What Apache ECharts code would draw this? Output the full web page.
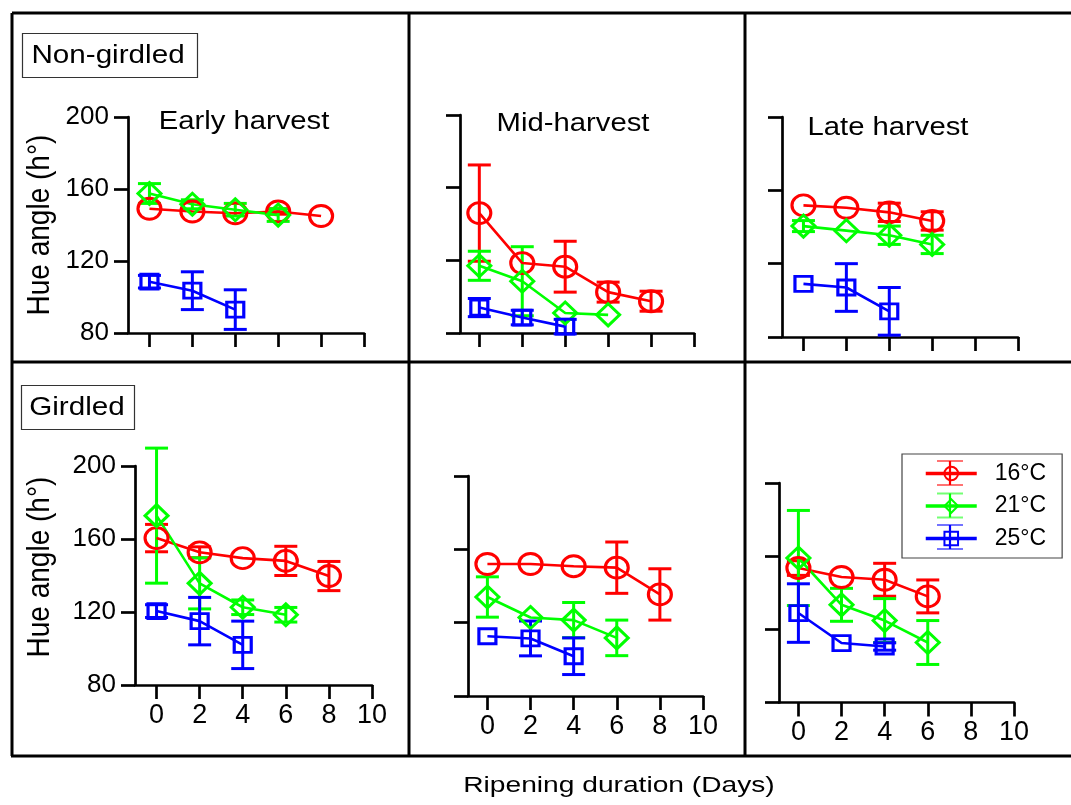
<!DOCTYPE html>
<html>
<head>
<meta charset="utf-8">
<script src="https://cdn.jsdelivr.net/npm/echarts@6/dist/echarts.min.js"></script>
<style>
  html, body { margin: 0; padding: 0; background: #fff; }
  #main { width: 1071px; height: 805px; }
</style>
</head>
<body>
<div id="main"></div>
<script>
var days = [0, 2, 4, 6, 8];
var xTicks = [0, 2, 4, 6, 8, 10];
var temps = ['16°C', '21°C', '25°C'];
var colors = ['#ff0000', '#00ff00', '#0000ff'];

// Non-girdled, early harvest
var ngEarly16 = [149, 147.5, 146.5, 147.5, 145];
var ngEarly16Err = [0, 0, 0, 1.5, 0];
var ngEarly21 = [157.5, 151.5, 148.5, 145.5];
var ngEarly21Err = [5.5, 2.5, 3.5, 3.5];
var ngEarly25 = [108.5, 103.5, 93];
var ngEarly25Err = [3.5, 10.5, 11];

// Non-girdled, mid harvest
var ngMid16 = [146, 118.5, 116.5, 102.5, 97.5];
var ngMid16Err = [26.5, 0, 14, 5.5, 5.5];
var ngMid21 = [117, 108.5, 91, 90];
var ngMid21Err = [8, 19, 0, 0];
var ngMid25 = [94, 88.5, 83.5];
var ngMid25Err = [5, 4, 4];

// Non-girdled, late harvest
var ngLate16 = [151.8, 150.5, 148, 143.3];
var ngLate16Err = [0, 0, 5, 5];
var ngLate21 = [140.5, 138, 135.5, 130.5];
var ngLate21Err = [3, 0, 5, 5];
var ngLate25 = [109, 107, 94];
var ngLate25Err = [0, 13, 13];

// Girdled, early harvest
var gEarly16 = [160.5, 152.7, 149.5, 148, 139.7];
var gEarly16Err = [7.5, 3, 0, 8, 8];
var gEarly21 = [172.8, 135.7, 122.6, 118.5];
var gEarly21Err = [37, 14, 4, 4];
var gEarly25 = [120.5, 115, 102];
var gEarly25Err = [3.5, 13, 13];

// Girdled, mid harvest
var gMid16 = [152, 152, 150.8, 150, 135.4];
var gMid16Err = [0, 0, 0, 14, 14];
var gMid21 = [134, 122.8, 121.4, 111.7];
var gMid21Err = [11, 0, 9.6, 9.7];
var gMid25 = [112.6, 111.4, 101.7];
var gMid25Err = [0, 9.5, 10];

// Girdled, late harvest
var gLate16 = [153.5, 148.6, 147.1, 138];
var gLate16Err = [4, 0, 9, 9];
var gLate21 = [159, 133.4, 124.8, 112.8];
var gLate21Err = [26, 9, 12, 12];
var gLate25 = [128.9, 112.5, 110.6];
var gLate25Err = [16, 0, 2];

var panels = [
  { left: 128, top: 117, width: 236, height: 216, xMin: -1,   yLabels: true,  xLabels: false,
    means: [ngEarly16, ngEarly21, ngEarly25], errs: [ngEarly16Err, ngEarly21Err, ngEarly25Err] },
  { left: 460, top: 115, width: 234, height: 218, xMin: -0.9, yLabels: false, xLabels: false,
    means: [ngMid16, ngMid21, ngMid25], errs: [ngMid16Err, ngMid21Err, ngMid25Err] },
  { left: 782, top: 117, width: 236, height: 220, xMin: -1,   yLabels: false, xLabels: false,
    means: [ngLate16, ngLate21, ngLate25], errs: [ngLate16Err, ngLate21Err, ngLate25Err] },
  { left: 135, top: 466, width: 237, height: 219, xMin: -1,   yLabels: true,  xLabels: true,
    means: [gEarly16, gEarly21, gEarly25], errs: [gEarly16Err, gEarly21Err, gEarly25Err] },
  { left: 468, top: 476, width: 235, height: 220, xMin: -0.9, yLabels: false, xLabels: true,
    means: [gMid16, gMid21, gMid25], errs: [gMid16Err, gMid21Err, gMid25Err] },
  { left: 779, top: 483, width: 235, height: 219.5, xMin: -0.9, yLabels: false, xLabels: true,
    means: [gLate16, gLate21, gLate25], errs: [gLate16Err, gLate21Err, gLate25Err] }
];

var FONT = 'Liberation Sans';
var symbols = ['circle', 'diamond', 'rect'];
var symbolSizes = [[23, 21], [23, 22], [17, 15]];

var chart = echarts.init(document.getElementById('main'));

var grids = [], xAxes = [], yAxes = [], series = [];

function errorBar(color) {
  return function (params, api) {
    var x = api.value(0), m = api.value(1), e = api.value(2);
    if (!e) return;
    var top = api.coord([x, m + e]);
    var bot = api.coord([x, m - e]);
    var hw = 11.5;
    var st = { stroke: color, lineWidth: 3 };
    return {
      type: 'group',
      children: [
        { type: 'line', shape: { x1: top[0], y1: top[1], x2: bot[0], y2: bot[1] }, style: st },
        { type: 'line', shape: { x1: top[0] - hw, y1: top[1], x2: top[0] + hw, y2: top[1] }, style: st },
        { type: 'line', shape: { x1: bot[0] - hw, y1: bot[1], x2: bot[0] + hw, y2: bot[1] }, style: st }
      ]
    };
  };
}

panels.forEach(function (p, i) {
  grids.push({ left: p.left, top: p.top, width: p.width, height: p.height, containLabel: false });
  xAxes.push({
    gridIndex: i, type: 'value', min: p.xMin, max: 10,
    axisLine: { show: true, onZero: false, lineStyle: { color: '#000', width: 2.7 } },
    axisTick: { show: true, length: 14, customValues: xTicks, lineStyle: { color: '#000', width: 2.7 } },
    axisLabel: { show: p.xLabels, customValues: xTicks, fontSize: 27, fontFamily: FONT, color: '#000', margin: 17 },
    splitLine: { show: false }
  });
  yAxes.push({
    gridIndex: i, type: 'value', min: 80, max: 200, interval: 40,
    axisLine: { show: true, onZero: false, lineStyle: { color: '#000', width: 2.7 } },
    axisTick: { show: true, length: 14, lineStyle: { color: '#000', width: 2.7 } },
    axisLabel: { show: p.yLabels, fontSize: 26, fontFamily: FONT, color: '#000', margin: 19 },
    splitLine: { show: false }
  });
  for (var t = 0; t < 3; t++) {
    var m = p.means[t], e = p.errs[t];
    var pts = [], bars = [];
    for (var k = 0; k < m.length; k++) {
      pts.push([days[k], m[k]]);
      bars.push([days[k], m[k], e[k]]);
    }
    series.push({
      type: 'custom', xAxisIndex: i, yAxisIndex: i, clip: false, silent: true,
      renderItem: errorBar(colors[t]), encode: { x: 0, y: 1 }, data: bars, z: 2
    });
    series.push({
      name: temps[t], type: 'line', xAxisIndex: i, yAxisIndex: i, data: pts,
      symbol: symbols[t], symbolSize: symbolSizes[t], showAllSymbol: true,
      lineStyle: { color: colors[t], width: 2.6 },
      itemStyle: { color: 'rgba(0,0,0,0)', borderColor: colors[t], borderWidth: 3 },
      emphasis: { disabled: true }, z: 3
    });
  }
});

function txt(text, x, y, size, sx, rot, sy) {
  return {
    type: 'text', x: x, y: y, rotation: rot || 0, scaleX: sx || 1, scaleY: sy || 1, silent: true,
    style: { text: text, font: size + 'px "' + FONT + '"', fill: '#000', textAlign: 'center', textVerticalAlign: 'middle' }
  };
}
function ln(x1, y1, x2, y2, w, c, op) {
  return { type: 'line', silent: true, shape: { x1: x1, y1: y1, x2: x2, y2: y2 },
    style: { stroke: c || '#000', lineWidth: w, opacity: op == null ? 1 : op } };
}

var graphics = [
  // frame
  ln(12, 13, 1071, 13, 3), ln(12, 362, 1071, 362, 3), ln(11, 756, 1071, 756, 3),
  ln(12, 13, 12, 756, 3), ln(409, 13, 409, 756, 3), ln(745, 13, 745, 756, 3),
  // group boxes
  { type: 'rect', silent: true, shape: { x: 22.5, y: 33.5, width: 175, height: 44 }, style: { fill: '#fff', stroke: '#333', lineWidth: 1.2 } },
  { type: 'rect', silent: true, shape: { x: 21.5, y: 385.5, width: 113, height: 44 }, style: { fill: '#fff', stroke: '#333', lineWidth: 1.2 } },
  txt('Non-girdled', 108, 56, 26, 1.14),
  txt('Girdled', 77, 408, 26, 1.14),
  txt('Early harvest', 244, 122, 25, 1.17),
  txt('Mid-harvest', 573, 124, 25, 1.17),
  txt('Late harvest', 888, 128, 25, 1.17),
  txt('Hue angle (h°)', 40, 225, 28, 1, Math.PI / 2, 1.12),
  txt('Hue angle (h°)', 40, 567, 28, 1, Math.PI / 2, 1.12),
  txt('Ripening duration (Days)', 619, 786, 22, 1.28)
];

// error-bar glyphs inside the legend icons
var legendRows = [473, 505.5, 537];
legendRows.forEach(function (y, t) {
  graphics.push(ln(950, y - 12, 950, y + 12, 2.2, colors[t]));
  graphics.push(ln(937, y - 12, 963, y - 12, 2, colors[t], 0.55));
  graphics.push(ln(937, y + 12, 963, y + 12, 2, colors[t], 0.55));
});

chart.setOption({
  animation: false,
  backgroundColor: '#fff',
  grid: grids,
  xAxis: xAxes,
  yAxis: yAxes,
  legend: {
    data: temps, orient: 'vertical', left: 902, top: 454,
    padding: [8, 16, 8, 22], itemGap: 9.5, itemWidth: 51, itemHeight: 17,
    borderColor: '#444', borderWidth: 1.2, selectedMode: false,
    lineStyle: { width: 3.5 },
    itemStyle: { borderWidth: 2 },
    textStyle: { fontSize: 23, fontFamily: FONT, color: '#000', lineHeight: 22, padding: [0, 0, 0, 13] }
  },
  graphic: graphics,
  series: series
});
</script>
</body>
</html>
